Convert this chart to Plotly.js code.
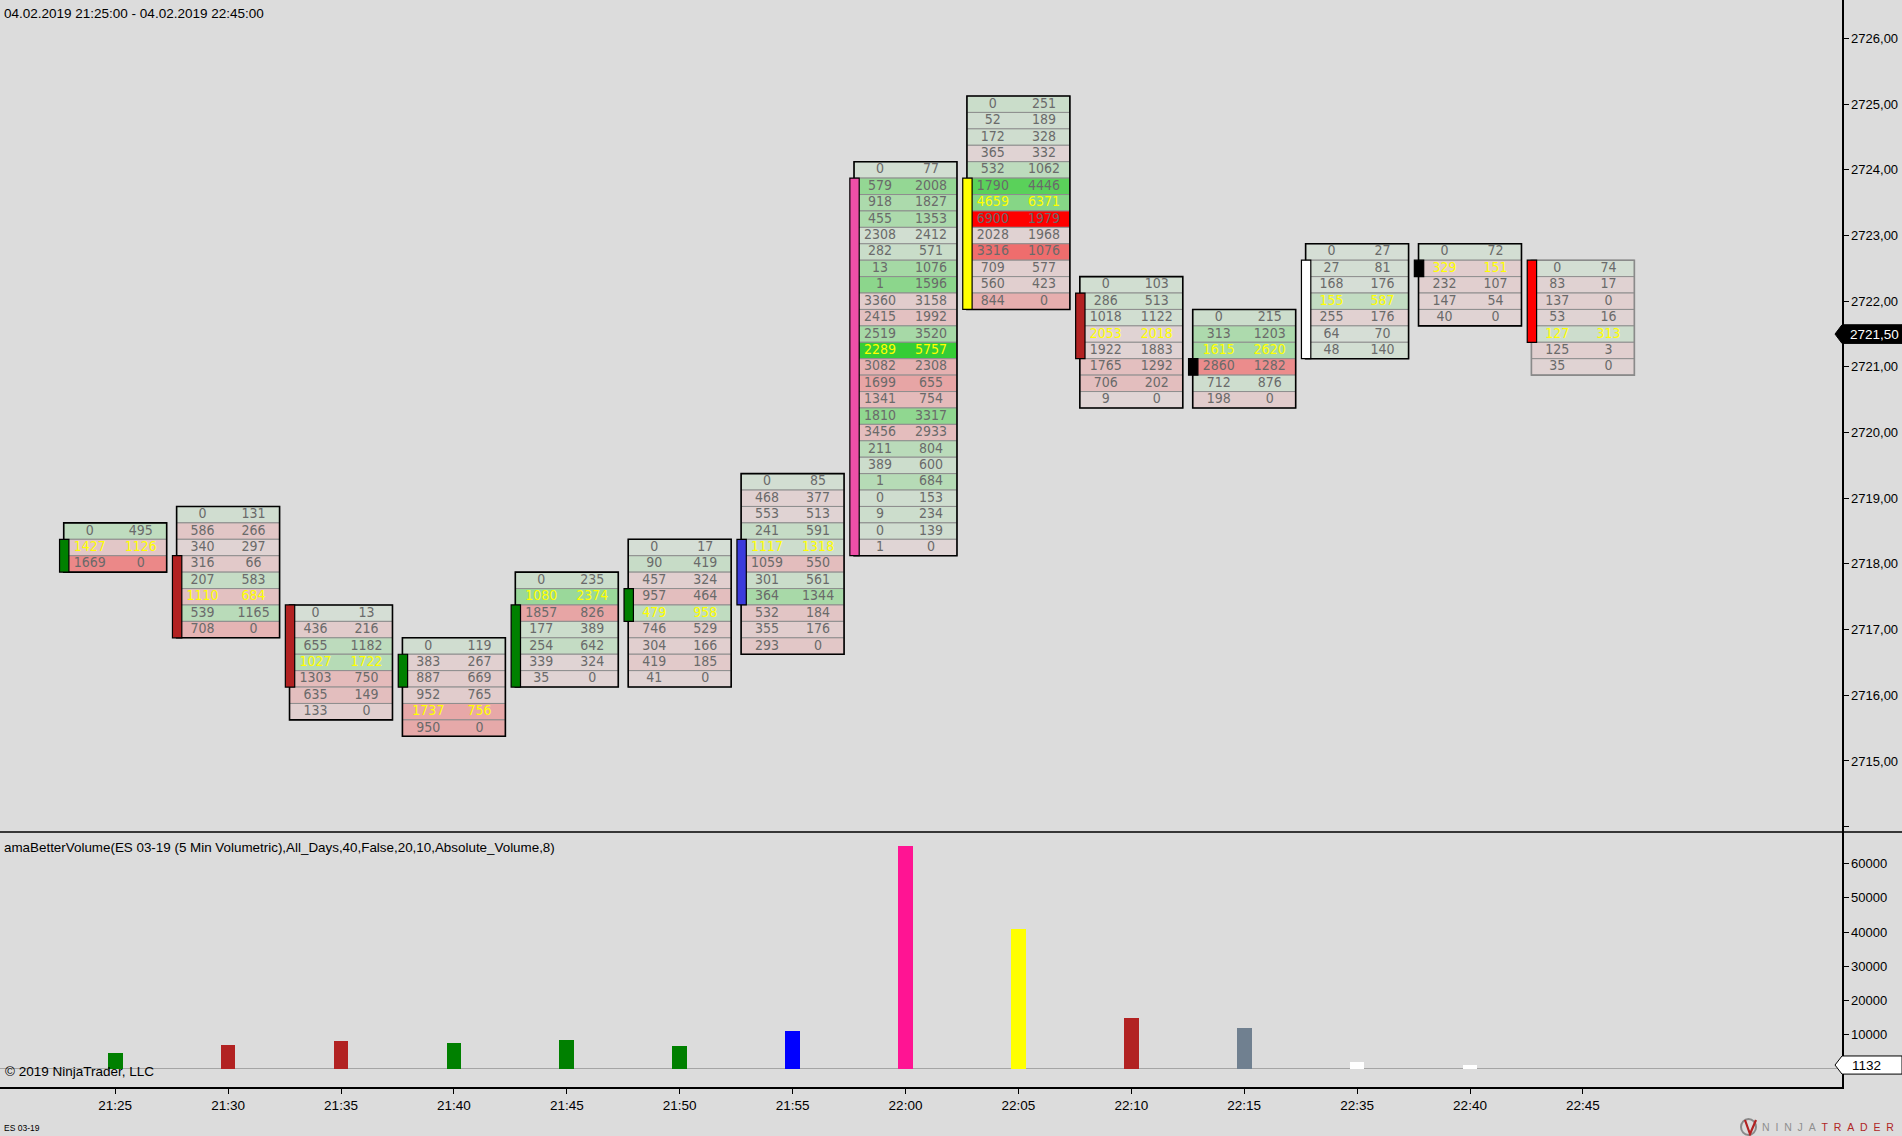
<!DOCTYPE html>
<html><head><meta charset="utf-8">
<script src="https://cdn.plot.ly/plotly-3.0.1.min.js"></script>
<style>html,body{margin:0;padding:0;background:#dcdcdc;overflow:hidden}#chart{width:1902px;height:1136px}</style>
</head><body><div id="chart"></div>
<script>
// ---------- data ----------
const times = ['21:25','21:30','21:35','21:40','21:45','21:50','21:55','22:00','22:05','22:10','22:15','22:35','22:40','22:45'];
const topPrices = [2718.50, 2718.75, 2717.25, 2716.75, 2717.75, 2718.25, 2719.25, 2724.00, 2725.00, 2722.25, 2721.75, 2722.75, 2722.75, 2722.50];
const bids = [
  [0,1427,1669],
  [0,586,340,316,207,1110,539,708],
  [0,436,655,1027,1303,635,133],
  [0,383,887,952,1737,950],
  [0,1080,1857,177,254,339,35],
  [0,90,457,957,479,746,304,419,41],
  [0,468,553,241,1117,1059,301,364,532,355,293],
  [0,579,918,455,2308,282,13,1,3360,2415,2519,2289,3082,1699,1341,1810,3456,211,389,1,0,9,0,1],
  [0,52,172,365,532,1790,4659,6900,2028,3316,709,560,844],
  [0,286,1018,2053,1922,1765,706,9],
  [0,313,1615,2860,712,198],
  [0,27,168,155,255,64,48],
  [0,329,232,147,40],
  [0,83,137,53,127,125,35]
];
const asks = [
  [495,1126,0],
  [131,266,297,66,583,684,1165,0],
  [13,216,1182,1722,750,149,0],
  [119,267,669,765,756,0],
  [235,2374,826,389,642,324,0],
  [17,419,324,464,958,529,166,185,0],
  [85,377,513,591,1318,550,561,1344,184,176,0],
  [77,2008,1827,1353,2412,571,1076,1596,3158,1992,3520,5757,2308,655,754,3317,2933,804,600,684,153,234,139,0],
  [251,189,328,332,1062,4446,6371,1979,1968,1076,577,423,0],
  [103,513,1122,2018,1883,1292,202,0],
  [215,1203,2620,1282,876,0],
  [27,81,176,587,176,70,140],
  [72,151,107,54,0],
  [74,17,0,16,313,3,0]
];
const opens  = [2718.00, 2718.00, 2717.25, 2716.25, 2716.25, 2717.25, 2717.50, 2718.25, 2723.75, 2722.00, 2721.00, 2721.25, 2722.50, 2722.50];
const closes = [2718.25, 2717.00, 2716.25, 2716.50, 2717.25, 2717.50, 2718.25, 2723.75, 2722.00, 2721.25, 2721.00, 2722.50, 2722.50, 2721.50];
const volumes = [4717, 6998, 8221, 7485, 8532, 6555, 10982, 65066, 40929, 14892, 11894, 1974, 1132, null];
const lastPrice = 2721.50;
const lastVolume = 1132;
const priceTicks = [2714,2715,2716,2717,2718,2719,2720,2721,2722,2723,2724,2725,2726];
const volTicks = [10000,20000,30000,40000,50000,60000];

// ---------- styles ----------
const candleColors = ['#008000','#b22222','#b22222','#008000','#008000','#008000','#3b3bdc','#ee4fa8','#ffff00','#b22222','#000000','#ffffff','#000000','#ff0000'];
const volColors = ['#008000','#b22222','#b22222','#008000','#008000','#008000','#0000ff','#ff1493','#ffff00','#b22222','#708090','#ffffff','#ffffff','#ffffff'];
const TICK = 0.25, HALF = 0.125;
const BOX_HW = 0.456, TXT_OFF = 0.226, C_X0 = -0.493, C_X1 = -0.410;
const numFont = "'Liberation Sans Narrow','Arial Narrow','DejaVu Sans Condensed',sans-serif";
const mainFont = "Arial,'Liberation Sans',sans-serif";

function mix(a,b,t){return 'rgb('+a.map((v,k)=>Math.round(v+(b[k]-v)*t)).join(',')+')';}
function cellColor(b,a){
  const d=a-b, t=Math.min(1,Math.abs(d)/4600);
  return d>=0 ? mix([214,222,214],[0,200,0],t) : mix([224,213,213],[255,0,0],t);
}

const shapes=[], tx=[], ty=[], ts=[], tc=[];
times.forEach((tm,i)=>{
  const b=bids[i], a=asks[i], n=b.length;
  let poc=0; for(let j=1;j<n;j++) if(b[j]+a[j]>b[poc]+a[poc]) poc=j;
  for(let j=0;j<n;j++){
    const p=topPrices[i]-j*TICK;
    shapes.push({type:'rect',xref:'x',yref:'y',layer:'below',x0:i-BOX_HW,x1:i+BOX_HW,y0:p-HALF,y1:p+HALF,
      fillcolor:cellColor(b[j],a[j]),line:{color:'#8e8e8e',width:1}});
    const col = j===poc ? '#ffff00' : '#6a6a6a';
    tx.push(i-TXT_OFF, i+TXT_OFF); ty.push(p,p); ts.push(String(b[j]),String(a[j])); tc.push(col,col);
  }
  const bottom=topPrices[i]-(n-1)*TICK;
  shapes.push({type:'rect',xref:'x',yref:'y',layer:'below',x0:i-BOX_HW,x1:i+BOX_HW,y0:bottom-HALF,y1:topPrices[i]+HALF,
    fillcolor:'rgba(0,0,0,0)',line:{color:i===times.length-1?'#8a8a8a':'#000000',width:1.6}});
  shapes.push({type:'rect',xref:'x',yref:'y',layer:'below',x0:i+C_X0,x1:i+C_X1,
    y0:Math.min(opens[i],closes[i])-HALF,y1:Math.max(opens[i],closes[i])+HALF,
    fillcolor:candleColors[i],line:{color:'#000000',width:1.2}});
});

// separator between panels and right-axis labels
const PH = 1087, PW = 1842;
const sepY = (PH-832)/PH;
shapes.push({type:'line',xref:'paper',yref:'paper',x0:0,x1:1902/PW,y0:sepY,y1:sepY,line:{color:'#000',width:1.5},layer:'above'});
const xr = 1902/PW, xt = 1835/PW;
const ph = 0.142;
shapes.push({type:'path',xref:'paper',yref:'y',layer:'above',
  path:`M ${xt},${lastPrice} L 1,${lastPrice+ph} L ${xr},${lastPrice+ph} L ${xr},${lastPrice-ph} L 1,${lastPrice-ph} Z`,
  fillcolor:'#000',line:{color:'#000',width:1}});
const vh = 2650;
shapes.push({type:'path',xref:'paper',yref:'y2',layer:'above',
  path:`M ${xt},${lastVolume} L 1,${lastVolume+vh} L ${xr},${lastVolume+vh} L ${xr},${lastVolume-vh} L 1,${lastVolume-vh} Z`,
  fillcolor:'#fff',line:{color:'#000',width:1}});
// logo mark
shapes.push({type:'circle',xref:'paper',yref:'paper',layer:'above',x0:1741/PW,x1:1756/PW,y0:(PH-1135)/PH,y1:(PH-1119)/PH,
  line:{color:'#8a8a8a',width:2},fillcolor:'rgba(0,0,0,0)'});
shapes.push({type:'path',xref:'paper',yref:'paper',layer:'above',
  path:`M ${1745/PW},${(PH-1120)/PH} L ${1750/PW},${(PH-1134)/PH} L ${1756/PW},${(PH-1120)/PH}`,
  line:{color:'#b22222',width:2.2}});

const traces=[
  {type:'scatter',mode:'text',x:tx,y:ty,text:ts,textposition:'middle center',
   textfont:{family:numFont,size:14,color:tc},hoverinfo:'skip',xaxis:'x',yaxis:'y',showlegend:false,cliponaxis:false},
  {type:'bar',x:times.map((t,i)=>i),y:volumes,width:0.13,marker:{color:volColors,line:{width:0}},
   xaxis:'x',yaxis:'y2',hoverinfo:'skip',showlegend:false}
];

const fmtPrice = v => v.toFixed(2).replace('.',',');
const sp = '\u00a0\u00a0';
const annotations=[
  {xref:'paper',yref:'paper',x:2/PW,y:(PH-13)/PH,xanchor:'left',yanchor:'middle',showarrow:false,
   text:'04.02.2019 21:25:00 - 04.02.2019 22:45:00',font:{size:13.5,color:'#000'}},
  {xref:'paper',yref:'paper',x:2/PW,y:(PH-847)/PH,xanchor:'left',yanchor:'middle',showarrow:false,
   text:'amaBetterVolume(ES 03-19 (5 Min Volumetric),All_Days,40,False,20,10,Absolute_Volume,8)',font:{size:13.4,color:'#000'}},
  {xref:'paper',yref:'paper',x:3/PW,y:(PH-1071)/PH,xanchor:'left',yanchor:'middle',showarrow:false,
   text:'© 2019 NinjaTrader, LLC',font:{size:13.5,color:'#000'}},
  {xref:'paper',yref:'paper',x:2/PW,y:(PH-1128)/PH,xanchor:'left',yanchor:'middle',showarrow:false,
   text:'ES 03-19',font:{size:8.5,color:'#000'}},
  {xref:'paper',yref:'paper',x:1760/PW,y:(PH-1127)/PH,xanchor:'left',yanchor:'middle',showarrow:false,
   text:'<span style="color:#8f8f8f">'+'NINJA'.split('').join(sp)+sp+'</span><span style="color:#b02525">'+'TRADER'.split('').join(sp)+'</span>',
   font:{size:10.5}},
  {xref:'paper',yref:'y',x:1,y:lastPrice,xanchor:'left',yanchor:'middle',xshift:6,showarrow:false,
   text:fmtPrice(lastPrice),font:{size:13.5,color:'#fff'}},
  {xref:'paper',yref:'y2',x:1,y:lastVolume,xanchor:'left',yanchor:'middle',xshift:8,showarrow:false,
   text:String(lastVolume),font:{size:13.5,color:'#000'}}
];

const layout={
  width:1902,height:1136,paper_bgcolor:'#dcdcdc',plot_bgcolor:'#dcdcdc',
  margin:{l:0,r:60,t:0,b:49,pad:0},font:{family:mainFont,color:'#000'},
  showlegend:false,bargap:0,
  xaxis:{anchor:'y2',range:[-115.2/112.9,(PW-115.2)/112.9],tickvals:times.map((t,i)=>i),ticktext:times,
    showline:true,linecolor:'#000',linewidth:1.5,ticks:'outside',ticklen:5,tickcolor:'#000',
    showgrid:false,zeroline:false,tickfont:{size:13.5,color:'#000'},fixedrange:true},
  yaxis:{domain:[sepY,1],anchor:'x',side:'right',range:[2713.918,2726.587],
    tickvals:priceTicks,ticktext:priceTicks.map(v=>v===2714?'':fmtPrice(v)),
    showline:true,linecolor:'#000',linewidth:1.5,ticks:'outside',ticklen:5,tickcolor:'#000',
    showgrid:false,zeroline:false,tickfont:{size:13,color:'#000'},fixedrange:true},
  yaxis2:{domain:[0,sepY],anchor:'x',side:'right',range:[-5292,69270],
    tickvals:volTicks,ticktext:volTicks.map(String),
    showline:true,linecolor:'#000',linewidth:1.5,ticks:'outside',ticklen:5,tickcolor:'#000',
    showgrid:false,zeroline:true,zerolinecolor:'#a5a5a5',zerolinewidth:1,tickfont:{size:13,color:'#000'},fixedrange:true},
  shapes:shapes,annotations:annotations
};
Plotly.newPlot('chart',traces,layout,{displayModeBar:false,staticPlot:true});
</script></body></html>
